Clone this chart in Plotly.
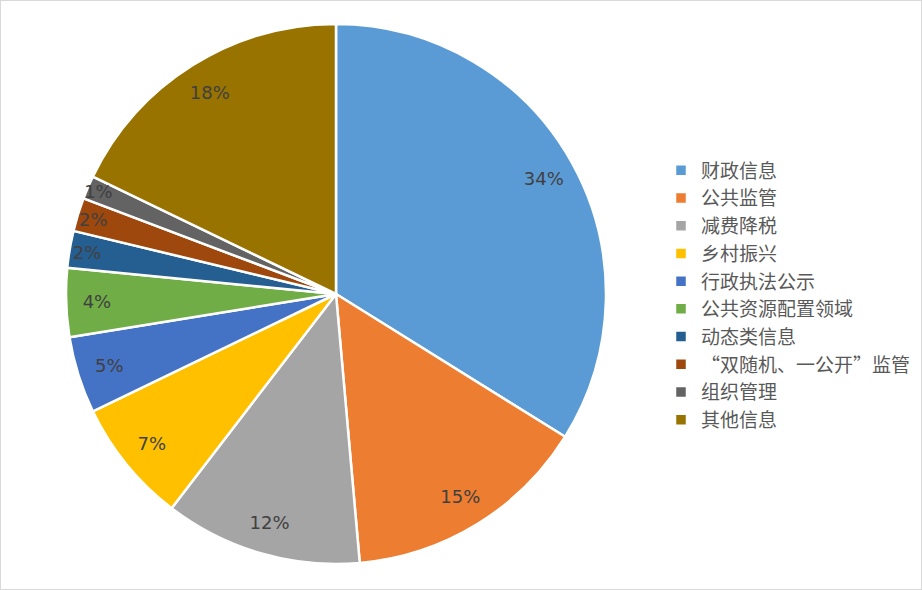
import plotly.graph_objects as go

categories = ["财政信息", "公共监管", "减费降税", "乡村振兴", "行政执法公示",
              "公共资源配置领域", "动态类信息", "“双随机、一公开”监管", "组织管理", "其他信息"]
values = [33.8, 14.7, 11.8, 7.4, 4.6, 4.1, 2.2, 2.0, 1.4, 17.8]
colors = ["#5B9BD5", "#ED7D31", "#A5A5A5", "#FFC000", "#4472C4",
          "#70AD47", "#255E91", "#9E480E", "#636363", "#997300"]

W, H = 922, 590
dom = dict(x=[66 / W, 606 / W], y=[1 - 564 / H, 1 - 24 / H])

fig = go.Figure()
fig.add_trace(go.Pie(
    labels=categories,
    values=values,
    sort=False,
    direction="clockwise",
    rotation=0,
    marker=dict(colors=colors, line=dict(color="white", width=2.5)),
    textinfo="none",
    domain=dom,
    hoverinfo="label+percent",
))
# label ring: transparent pie used only to place the percentage labels near the rim
fig.add_trace(go.Pie(
    labels=categories,
    values=values,
    sort=False,
    direction="clockwise",
    rotation=0,
    hole=0.76,
    marker=dict(colors=["rgba(0,0,0,0)"] * len(values), line=dict(width=0)),
    texttemplate="%{percent:.0%}",
    textposition="inside",
    insidetextorientation="horizontal",
    textfont=dict(color="#404040", size=18, family="DejaVu Sans"),
    domain=dom,
    hoverinfo="skip",
    showlegend=False,
))

fig.update_layout(
    width=W, height=H,
    margin=dict(l=0, r=0, t=0, b=0),
    paper_bgcolor="white",
    font=dict(family="DejaVu Sans, Noto Sans CJK SC", color="#595959"),
    uniformtext=dict(minsize=18, mode="show"),
    legend=dict(
        x=661 / W, xanchor="left",
        y=0.5, yanchor="middle",
        font=dict(size=19, color="#595959", family="Noto Sans CJK SC"),
        bgcolor="rgba(0,0,0,0)",
    ),
    shapes=[dict(type="rect", xref="paper", yref="paper", x0=0, y0=0, x1=1, y1=1,
                 line=dict(color="#D9D9D9", width=2))],
)

fig.write_html("out.html",
               config={"displayModeBar": False},
               post_script="document.body.style.margin='0';document.body.style.padding='0';")
